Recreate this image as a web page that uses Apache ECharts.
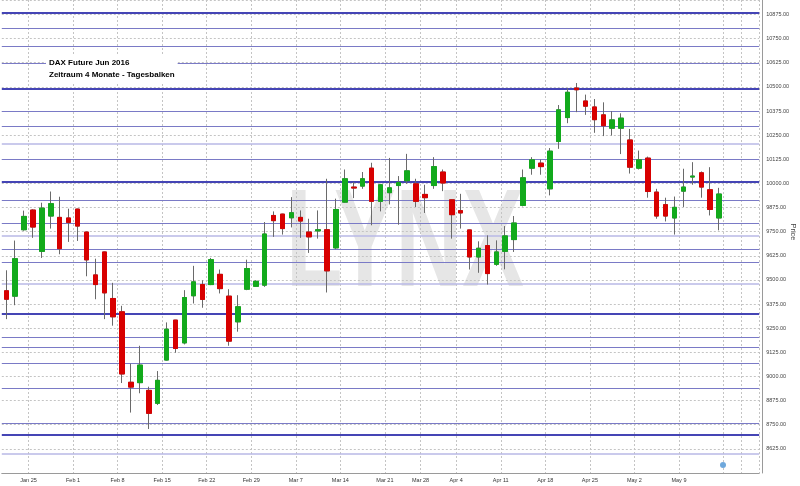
<!DOCTYPE html>
<html><head><meta charset="utf-8">
<script src="https://cdn.jsdelivr.net/npm/echarts@6/dist/echarts.min.js"></script>
<style>html,body{margin:0;padding:0;background:#fff}#c{width:800px;height:486px}</style>
</head><body><div id="c"></div>
<script>
// Trading days (category axis)
const dates = [
 '2016-01-20','2016-01-21','2016-01-22','2016-01-25','2016-01-26','2016-01-27','2016-01-28','2016-01-29',
 '2016-02-01','2016-02-02','2016-02-03','2016-02-04','2016-02-05','2016-02-08','2016-02-09','2016-02-10','2016-02-11','2016-02-12',
 '2016-02-15','2016-02-16','2016-02-17','2016-02-18','2016-02-19','2016-02-22','2016-02-23','2016-02-24','2016-02-25','2016-02-26',
 '2016-02-29','2016-03-01','2016-03-02','2016-03-03','2016-03-04','2016-03-07','2016-03-08','2016-03-09','2016-03-10','2016-03-11',
 '2016-03-14','2016-03-15','2016-03-16','2016-03-17','2016-03-18','2016-03-21','2016-03-22','2016-03-23','2016-03-24',
 '2016-03-29','2016-03-30','2016-03-31','2016-04-01','2016-04-04','2016-04-05','2016-04-06','2016-04-07','2016-04-08',
 '2016-04-11','2016-04-12','2016-04-13','2016-04-14','2016-04-15','2016-04-18','2016-04-19','2016-04-20','2016-04-21','2016-04-22',
 '2016-04-25','2016-04-26','2016-04-27','2016-04-28','2016-04-29','2016-05-02','2016-05-03','2016-05-04','2016-05-05','2016-05-06',
 '2016-05-09','2016-05-10','2016-05-11','2016-05-12','2016-05-13'
];
const padDates = ['2016-05-16','2016-05-17','2016-05-18','2016-05-19'];

const openP = [9444,9416,9760,9862,9648,9831,9824,9821,9867,9748,9526,9645,9404,9335,8970,8968,8928,8861,9085,9292,
 9174,9418,9476,9476,9529,9416,9283,9452,9467,9473,9834,9841,9822,9824,9748,9754,9760,9666,9903,9981,
 9986,10079,9907,9952,9989,10014,9998,9943,9989,10059,9915,9859,9759,9619,9678,9581,9648,9709,9886,10079,
 10105,9972,10217,10341,10494,10427,10396,10355,10286,10286,10225,10079,10131,9955,9890,9821,9960,10033,10055,9967,9821];
const closeP = [9400,9610,9829,9774,9872,9895,9662,9798,9779,9604,9476,9433,9309,9013,8945,9059,8809,8980,9245,9145,
 9409,9490,9399,9605,9455,9183,9361,9559,9493,9738,9807,9766,9848,9805,9723,9760,9547,9865,10024,9976,
 10024,9907,9993,9977,10005,10065,9907,9926,10087,10002,9838,9847,9619,9664,9533,9645,9728,9795,10029,10122,
 10087,10167,10381,10472,10485,10400,10330,10299,10329,10338,10084,10122,9958,9831,9831,9876,9981,10038,9981,9865,9945];
const lowP = [9297,9369,9755,9718,9614,9766,9633,9697,9702,9519,9400,9297,9263,8966,8813,8913,8728,8852,9082,9123,
 9166,9378,9356,9473,9430,9159,9232,9447,9464,9464,9723,9735,9772,9718,9640,9714,9435,9659,9900,9924,
 9972,9783,9855,9891,9786,9998,9878,9847,9972,9960,9714,9766,9554,9537,9476,9573,9555,9645,9881,10045,
 10045,9938,10179,10312,10369,10355,10262,10245,10248,10152,10051,10072,9926,9817,9803,9735,9878,9993,9926,9834,9757];
const highP = [9550,9704,9859,9866,9900,9958,9931,9869,9869,9750,9610,9647,9485,9366,9066,9159,8947,9028,9280,9293,
 9447,9573,9498,9614,9554,9452,9421,9605,9498,9800,9855,9843,9929,9860,9817,9860,10024,9921,10072,10007,
 10059,10107,9998,10132,10038,10153,10024,9993,10136,10072,9917,9946,9760,9700,9731,9705,9779,9831,10072,10136,
 10124,10183,10406,10493,10520,10460,10437,10420,10374,10363,10282,10170,10139,9972,9926,9932,10076,10110,10062,10084,9977];

// Week labels on the x axis
const weekDates = ['2016-01-25','2016-02-01','2016-02-08','2016-02-15','2016-02-22','2016-02-29','2016-03-07','2016-03-14',
 '2016-03-21','2016-03-29','2016-04-04','2016-04-11','2016-04-18','2016-04-25','2016-05-02','2016-05-09'];
const weekLabels = ['Jan 25','Feb 1','Feb 8','Feb 15','Feb 22','Feb 29','Mar 7','Mar 14',
 'Mar 21','Mar 28','Apr 4','Apr 11','Apr 18','Apr 25','May 2','May 9'];
const extraGridDates = ['2016-05-16','2016-05-18'];

// Price axis
const yMin = 8500, yMax = 10950, yStep = 125;

// Horizontal support / resistance levels
const levelsStrong = [10883,10489,10011,9326,8697];
const levelsNormal = [10803,10709,10622,10375,10296,10125,9914,9795,9660,9590,9201,9149,9067,8938,8757];
const levelsLight = [10203,9731,9480,8601];

const categories = dates.concat(padDates);
const gridDates = weekDates.concat(extraGridDates);
const wickData = dates.map((d,i)=>[openP[i],closeP[i],lowP[i],highP[i]]);
const bodyData = dates.map((d,i)=>[openP[i],closeP[i],Math.min(openP[i],closeP[i]),Math.max(openP[i],closeP[i])]);

const mk = (arr,color,width)=>arr.map(v=>({yAxis:v,lineStyle:{color:color,width:width,type:'solid'}}));
const levelLines = [].concat(mk(levelsLight,'#b9b9e6',1.5), mk(levelsNormal,'#7a7ac6',1), mk(levelsStrong,'#4545b5',2));

const GREEN='#12aa1c', RED='#d80000', WICK='#6a6a6a';
const chart = echarts.init(document.getElementById('c'), null, {renderer:'canvas'});
chart.setOption({
  animation:false,
  backgroundColor:'#ffffff',
  title:{
    text:'DAX Future Jun 2016\nZeitraum 4 Monate - Tagesbalken',
    left:46, top:54, padding:[3,3,3,3], backgroundColor:'#ffffff',
    textStyle:{fontFamily:'Liberation Sans',fontSize:8,fontWeight:'bold',color:'#000',lineHeight:12}
  },
  graphic:[
    {type:'text', x:405, y:247, scaleX:0.66, z:-10, silent:true,
     style:{text:'LYNX', font:'bold 140px "Liberation Sans"', fill:'#e6e6e6', textAlign:'center', textVerticalAlign:'middle'}},
    {type:'text', x:793, y:232, rotation:-Math.PI/2, silent:true,
     style:{text:'Price', font:'7.5px "Liberation Sans"', fill:'#444', textAlign:'center', textVerticalAlign:'middle'}},
    {type:'circle', shape:{cx:723, cy:465, r:3}, style:{fill:'#6fa8dc'}, z:10, silent:true}
  ],
  grid:{left:1.8, right:40.8, top:0, bottom:13, containLabel:false, outerBoundsMode:'none'},
  xAxis:{
    type:'category', data:categories, boundaryGap:true,
    axisLine:{show:true,lineStyle:{color:'#9a9a9a',width:1}},
    axisTick:{show:false},
    axisLabel:{
      interval:(i,v)=>weekDates.indexOf(v)>=0,
      formatter:(v)=>{const k=weekDates.indexOf(v);return k>=0?weekLabels[k]:'';},
      fontFamily:'Liberation Sans', fontSize:5.5, color:'#333', margin:4, padding:[0,9,0,0]
    },
    splitLine:{show:true, interval:(i,v)=>gridDates.indexOf(v)>=0,
      lineStyle:{color:'#c4c4c4',type:[2,2],width:1}}
  },
  yAxis:{
    type:'value', position:'right', offset:3, min:yMin, max:yMax, interval:yStep, scale:true,
    axisLine:{show:true,lineStyle:{color:'#9a9a9a',width:1}},
    axisTick:{show:false},
    axisLabel:{formatter:(v)=>v.toFixed(2), showMinLabel:false, showMaxLabel:false,
      fontFamily:'Liberation Sans', fontSize:5.5, color:'#444', margin:4},
    splitLine:{show:true,lineStyle:{color:'#c4c4c4',type:[2,2],width:1}}
  },
  series:[
    {type:'candlestick', name:'wick', data:wickData, barWidth:5, z:3,
     itemStyle:{color:WICK,color0:WICK,borderColor:WICK,borderColor0:WICK,borderWidth:1},
     markLine:{silent:true, z:2, symbol:['none','none'], label:{show:false}, animation:false, data:levelLines}},
    {type:'candlestick', name:'DAX Future Jun 2016', data:bodyData, barWidth:5, z:4,
     itemStyle:{color:GREEN,color0:RED,borderColor:GREEN,borderColor0:RED,borderWidth:1}}
  ]
});
</script></body></html>
